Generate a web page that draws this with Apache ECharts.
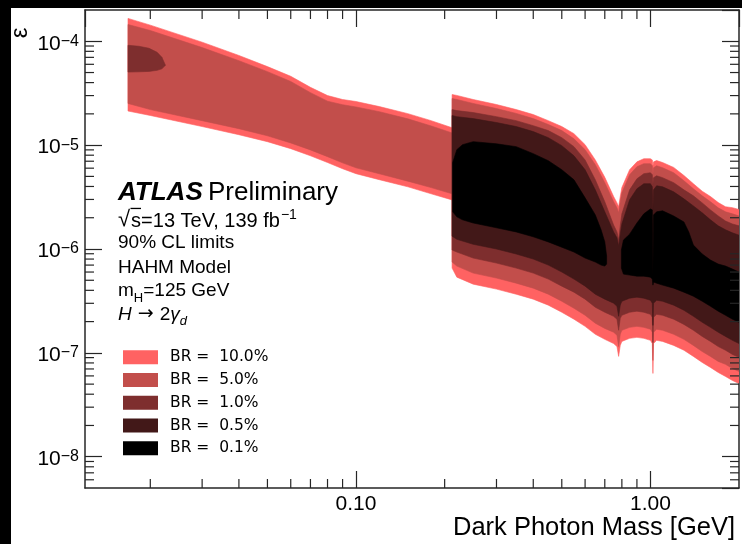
<!DOCTYPE html>
<html><head><meta charset="utf-8">
<script src="https://cdn.jsdelivr.net/npm/echarts@6/dist/echarts.min.js"></script>
<style>
html,body{margin:0;padding:0;background:#000;width:742px;height:544px;overflow:hidden}
#chart{position:absolute;left:11px;top:8px;width:731px;height:536px;background:#fff}
</style></head><body><div id="chart"></div>
<script>
// ---------- axis ranges and ticks ----------
const xMin = 0.012, xMax = 2.0, yMin = 5e-9, yMax = 2e-4;
const xMinorTicks = [0.02,0.03,0.04,0.05,0.06,0.07,0.08,0.09,0.2,0.3,0.4,0.5,0.6,0.7,0.8,0.9];
const yMinorTicks = [6e-9,7e-9,8e-9,9e-9,2e-8,3e-8,4e-8,5e-8,6e-8,7e-8,8e-8,9e-8,2e-7,3e-7,4e-7,5e-7,6e-7,7e-7,8e-7,9e-7,
  2e-6,3e-6,4e-6,5e-6,6e-6,7e-6,8e-6,9e-6,2e-5,3e-5,4e-5,5e-5,6e-5,7e-5,8e-5,9e-5];

// ---------- low-mass band (dark photon mass in GeV, epsilon) ----------
const massLeft = [0.0168,0.02,0.03,0.04,0.05,0.06,0.07,0.08,0.09,0.1,0.12,0.15,0.18,0.212];
const br10UpperLeft = [1.66e-4,1.43e-4,9.8e-5,7.3e-5,5.7e-5,4.6e-5,3.6e-5,3.0e-5,2.75e-5,2.63e-5,2.35e-5,2.01e-5,1.72e-5,1.47e-5];
const br10LowerLeft = [2.13e-5,1.93e-5,1.51e-5,1.26e-5,1.08e-5,9.25e-6,7.9e-6,6.8e-6,5.93e-6,5.31e-6,4.65e-6,3.97e-6,3.4e-6,2.97e-6];
const br5UpperLeft = [1.45e-4,1.27e-4,8.7e-5,6.5e-5,5.1e-5,4.1e-5,3.2e-5,2.65e-5,2.45e-5,2.33e-5,2.1e-5,1.79e-5,1.53e-5,1.31e-5];
const br5LowerLeft = [2.52e-5,2.2e-5,1.72e-5,1.44e-5,1.23e-5,1.05e-5,9.0e-6,7.75e-6,6.75e-6,6.05e-6,5.3e-6,4.5e-6,3.9e-6,3.4e-6];
const massBlob = [0.0168,0.0183,0.0198,0.0211,0.0219,0.0225];
const br1UpperBlob = [9.15e-5,8.95e-5,8.56e-5,7.83e-5,7.0e-5,5.9e-5];
const br1LowerBlob = [5.05e-5,5.08e-5,5.13e-5,5.25e-5,5.43e-5,5.86e-5];

// ---------- high-mass region ----------
const massRight = [0.212,0.22,0.25,0.3,0.35,0.4,0.45,0.5,0.55,0.6,0.65,0.7,0.75,0.77,0.78,0.79,0.8,0.85,0.9,0.95,1.0,1.015,1.02,1.025,1.05,1.1,1.2,1.3,1.4,1.5,1.6,1.7,1.8,1.9,2.0];
const br10UpperRight = [3.07e-5,3.01e-5,2.75e-5,2.46e-5,2.2e-5,1.97e-5,1.72e-5,1.51e-5,1.29e-5,1.01e-5,7.2e-6,4.9e-6,3.2e-6,2.78e-6,2.55e-6,3.2e-6,3.9e-6,5.8e-6,6.9e-6,7.4e-6,7.4e-6,7.2e-6,6.3e-6,6.9e-6,7.1e-6,6.8e-6,6.1e-6,5.1e-6,4.25e-6,3.6e-6,3.2e-6,2.8e-6,2.55e-6,2.5e-6,2.4e-6];
const br10LowerRight = [6.55e-7,5.36e-7,4.59e-7,4.11e-7,3.67e-7,3.29e-7,2.88e-7,2.46e-7,2.11e-7,1.8e-7,1.51e-7,1.35e-7,1.23e-7,1.15e-7,9.25e-8,1.18e-7,1.29e-7,1.38e-7,1.41e-7,1.38e-7,1.32e-7,1.23e-7,6.34e-8,1.23e-7,1.32e-7,1.29e-7,1.18e-7,1.06e-7,9.25e-8,8.09e-8,7.24e-8,6.48e-8,5.93e-8,5.42e-8,5.07e-8];
const br5UpperRight = [2.81e-5,2.75e-5,2.52e-5,2.25e-5,2.02e-5,1.8e-5,1.58e-5,1.38e-5,1.15e-5,9.05e-6,6.48e-6,4.35e-6,2.85e-6,2.49e-6,2.23e-6,2.85e-6,3.48e-6,5.19e-6,6.2e-6,6.63e-6,6.63e-6,6.34e-6,5.19e-6,6.06e-6,6.34e-6,6.06e-6,5.42e-6,4.54e-6,3.8e-6,3.25e-6,2.85e-6,2.49e-6,2.28e-6,2.18e-6,2.08e-6];
const br5LowerRight = [7.49e-7,6.85e-7,5.86e-7,5.25e-7,4.69e-7,4.2e-7,3.67e-7,3.14e-7,2.69e-7,2.3e-7,1.93e-7,1.72e-7,1.58e-7,1.48e-7,1.15e-7,1.51e-7,1.65e-7,1.76e-7,1.8e-7,1.76e-7,1.69e-7,1.58e-7,8.46e-8,1.58e-7,1.69e-7,1.65e-7,1.51e-7,1.35e-7,1.18e-7,1.03e-7,9.25e-8,8.28e-8,7.75e-8,7.08e-8,6.63e-8];
const br1UpperRight = [2.2e-5,2.15e-5,2.06e-5,1.88e-5,1.72e-5,1.54e-5,1.38e-5,1.18e-5,9.67e-6,7.2e-6,4.64e-6,2.85e-6,1.7e-6,1.46e-6,1.22e-6,1.67e-6,2.18e-6,3.71e-6,4.74e-6,5.31e-6,5.42e-6,5.19e-6,4.15e-6,4.86e-6,5.07e-6,4.86e-6,4.35e-6,3.71e-6,3.25e-6,2.78e-6,2.38e-6,2.08e-6,1.86e-6,1.74e-6,1.67e-6];
const br1LowerRight = [9.78e-7,9.35e-7,8.18e-7,7.32e-7,6.55e-7,5.86e-7,5.13e-7,4.39e-7,3.84e-7,3.29e-7,2.75e-7,2.46e-7,2.25e-7,2.11e-7,1.65e-7,2.15e-7,2.3e-7,2.46e-7,2.52e-7,2.46e-7,2.35e-7,2.2e-7,1.26e-7,2.2e-7,2.35e-7,2.3e-7,2.11e-7,1.88e-7,1.65e-7,1.44e-7,1.29e-7,1.15e-7,1.06e-7,9.67e-8,9.05e-8];
const br05UpperRight = [1.93e-5,1.88e-5,1.8e-5,1.65e-5,1.51e-5,1.35e-5,1.18e-5,9.89e-6,7.9e-6,5.8e-6,3.71e-6,2.28e-6,1.46e-6,1.28e-6,1.07e-6,1.39e-6,1.74e-6,2.98e-6,3.8e-6,4.25e-6,4.25e-6,3.97e-6,2.38e-6,3.71e-6,4.06e-6,3.97e-6,3.55e-6,3.04e-6,2.6e-6,2.23e-6,1.91e-6,1.67e-6,1.53e-6,1.43e-6,1.36e-6];
const br05LowerRight = [1.33e-6,1.24e-6,1.11e-6,1.0e-6,8.95e-7,8.0e-7,7.0e-7,6.0e-7,5.13e-7,4.39e-7,3.67e-7,3.29e-7,3.01e-7,2.81e-7,2.25e-7,2.88e-7,3.14e-7,3.36e-7,3.44e-7,3.36e-7,3.21e-7,3.01e-7,1.84e-7,3.01e-7,3.21e-7,3.14e-7,2.88e-7,2.57e-7,2.25e-7,1.97e-7,1.76e-7,1.58e-7,1.44e-7,1.32e-7,1.23e-7];
const massBlackA = [0.213,0.22,0.23,0.25,0.3,0.35,0.4,0.45,0.5,0.55,0.6,0.65,0.68,0.7,0.71];
const br01UpperA = [6.78e-6,9.05e-6,1.01e-5,1.08e-5,1.03e-5,9.67e-6,8.28e-6,7.08e-6,5.8e-6,4.64e-6,3.11e-6,2.13e-6,1.53e-6,1.17e-6,8.56e-7];
const br01LowerA = [2.28e-6,2.04e-6,1.91e-6,1.78e-6,1.6e-6,1.46e-6,1.31e-6,1.17e-6,1.04e-6,9.35e-7,8.18e-7,7.49e-7,7.0e-7,6.85e-7,7.16e-7];
const massBlackB = [0.797,0.81,0.85,0.9,0.95,1.0,1.015,1.02,1.025,1.05,1.1,1.2,1.3,1.35,1.4,1.5,1.6,1.7,1.8,1.9,2.0];
const br01UpperB = [9.78e-7,1.22e-6,1.39e-6,1.78e-6,2.18e-6,2.43e-6,2.38e-6,5.48e-7,2.13e-6,2.28e-6,2.33e-6,2.08e-6,1.82e-6,1.46e-6,1.09e-6,8.95e-7,7.83e-7,7.16e-7,6.85e-7,6.41e-7,6.0e-7];
const br01LowerB = [6.55e-7,5.73e-7,5.61e-7,5.48e-7,5.48e-7,5.36e-7,5.13e-7,4.49e-7,4.8e-7,4.69e-7,4.49e-7,4.2e-7,3.84e-7,3.67e-7,3.51e-7,3.14e-7,2.81e-7,2.52e-7,2.3e-7,2.11e-7,1.97e-7];

const seriesNames = ['BR =  10.0%','BR =  5.0%','BR =  1.0%','BR =  0.5%','BR =  0.1%'];
const seriesColors = ['#FF6262','#C24E4B','#7E2E2E','#421818','#000000'];

// ---------- helpers ----------
function pts(mass, vals){ return mass.map((m,i)=>[m, vals[i]]); }
function band(upperPts, lowerPts){ return upperPts.concat(lowerPts.slice().reverse()); }

const polys = [
  [ band(pts(massLeft,br10UpperLeft).concat(pts(massRight,br10UpperRight)),
         pts(massLeft,br10LowerLeft).concat(pts(massRight,br10LowerRight))) ],
  [ band(pts(massLeft,br5UpperLeft).concat(pts(massRight,br5UpperRight)),
         pts(massLeft,br5LowerLeft).concat(pts(massRight,br5LowerRight))) ],
  [ band(pts(massBlob,br1UpperBlob), pts(massBlob,br1LowerBlob)),
    band(pts(massRight,br1UpperRight), pts(massRight,br1LowerRight)) ],
  [ band(pts(massRight,br05UpperRight), pts(massRight,br05LowerRight)) ],
  [ band(pts(massBlackA,br01UpperA), pts(massBlackA,br01LowerA)),
    band(pts(massBlackB,br01UpperB), pts(massBlackB,br01LowerB)) ]
];

const AX = '#262626';
const MINOR_LEN = 9;

function polySeries(idx){
  const color = seriesColors[idx];
  const shapes = polys[idx];
  const data = [];
  shapes.forEach((poly,pi)=>poly.forEach(p=>data.push([p[0],p[1],pi])));
  return {
    type:'custom', name: seriesNames[idx], coordinateSystem:'cartesian2d',
    xAxisIndex:0, yAxisIndex:0, clip:true, silent:true,
    itemStyle:{color}, encode:{x:0,y:1}, data,
    renderItem(params, api){
      if (params.dataIndex !== 0) return null;
      return { type:'group', children: shapes.map(poly=>({
        type:'polygon',
        shape:{ points: poly.map(p=>api.coord([p[0],p[1]])) },
        style:{ fill: color, stroke: color, lineWidth: 0.6 }
      }))};
    }
  };
}

const FONT = '"Liberation Sans", Arial, Helvetica, sans-serif';
function isPow10(v){ const e = Math.round(Math.log10(v)); return Math.abs(v/Math.pow(10,e)-1) < 1e-6; }

function xAxisDef(pos, withLabels){
  return {
    type:'log', logBase:10, min:xMin, max:xMax, position:pos, gridIndex:0,
    axisLine:{show:true, onZero:false, lineStyle:{color:AX, width:1.5}},
    axisTick:{show:true, inside:true, length:17, lineStyle:{color:AX,width:1.2}},
    axisLabel: withLabels ? {show:true, margin:6, color:'#000', fontSize:21, fontFamily:FONT,
        showMinLabel:false, showMaxLabel:false,
        formatter: v => isPow10(v) ? v.toFixed(2) : ''} : {show:false},
    splitLine:{show:false}, minorTick:{show:false}
  };
}
function yAxisDef(pos, withLabels){
  return {
    type:'log', logBase:10, min:yMin, max:yMax, position:pos, gridIndex:0,
    axisLine:{show:true, onZero:false, lineStyle:{color:AX, width:1.5}},
    axisTick:{show:true, inside:true, length:17, lineStyle:{color:AX,width:1.2}},
    axisLabel: withLabels ? {show:true, margin:6, color:'#000', fontFamily:FONT,
        showMinLabel:false, showMaxLabel:false, padding:[5,0,0,0],
        formatter: v => isPow10(v) ? '{b|10}{s|\u2212' + (-Math.round(Math.log10(v))) + '}' : '',
        rich:{
          b:{fontSize:21, lineHeight:21, fontFamily:FONT, color:'#000', verticalAlign:'bottom'},
          s:{fontSize:16, lineHeight:16, fontFamily:FONT, color:'#000', verticalAlign:'top', padding:[0,0,13,0]}
        }} : {show:false},
    splitLine:{show:false}, minorTick:{show:false}
  };
}

const T = 19;
const textGraphics = [
  {type:'text', x:9, y:25, rotation:Math.PI/2, style:{text:'\u03b5', font:'24px '+FONT, fill:'#000', align:'center', verticalAlign:'middle'}},
  {type:'text', x:724, y:520, style:{text:'Dark Photon Mass [GeV]', font:'25.5px '+FONT, fill:'#000', align:'right', verticalAlign:'middle'}},
  {type:'text', x:107, y:184.5, style:{text:'ATLAS', font:'italic bold 26px '+FONT, fill:'#000', align:'left', verticalAlign:'middle'}},
  {type:'text', x:197, y:184.5, style:{text:'Preliminary', font:'26px '+FONT, fill:'#000', align:'left', verticalAlign:'middle'}},
  {type:'text', x:107, y:210, style:{text:'{r|\u221a}{n|s=13 TeV, 139 fb}{p|\u22121}', align:'left', verticalAlign:'middle',
     rich:{r:{fontSize:22, fontFamily:FONT, lineHeight:22, padding:[2,1,0,0], verticalAlign:'top', fill:'#000'},
           n:{fontSize:20, fontFamily:FONT, lineHeight:22, padding:[4,0,0,0], verticalAlign:'top', fill:'#000'},
           p:{fontSize:14, fontFamily:FONT, lineHeight:14, padding:[1,0,0,1], verticalAlign:'top', fill:'#000'}}}},
  {type:'rect', shape:{x:119.5, y:199.8, width:10.5, height:1.3}, style:{fill:'#000'}},
  {type:'text', x:107, y:235, style:{text:'90% CL limits', font:T+'px '+FONT, fill:'#000', align:'left', verticalAlign:'middle'}},
  {type:'text', x:107, y:259.5, style:{text:'HAHM Model', font:T+'px '+FONT, fill:'#000', align:'left', verticalAlign:'middle'}},
  {type:'text', x:107, y:284.5, style:{text:'{n|m}{d|H}{n|=125 GeV}', align:'left', verticalAlign:'middle',
     rich:{n:{fontSize:T, fontFamily:FONT, lineHeight:22, verticalAlign:'top', fill:'#000'},
           d:{fontSize:13, fontFamily:FONT, lineHeight:13, padding:[10,0,0,0], verticalAlign:'top', fill:'#000'}}}},
  {type:'text', x:107, y:308, style:{text:'{i|H}{a| \u2192 }{n|2}{i|\u03b3}{d|d}', align:'left', verticalAlign:'middle',
     rich:{n:{fontSize:T, fontFamily:FONT, lineHeight:22, verticalAlign:'top', fill:'#000'},
           a:{fontSize:T, fontFamily:'"DejaVu Sans", sans-serif', lineHeight:22, verticalAlign:'top', fill:'#000'},
           i:{fontSize:T, fontStyle:'italic', fontFamily:FONT, lineHeight:22, verticalAlign:'top', fill:'#000'},
           d:{fontSize:13, fontStyle:'italic', fontFamily:FONT, lineHeight:13, padding:[10,0,0,0], verticalAlign:'top', fill:'#000'}}}}
];

const GRID = {left:74, right:3, top:2, bottom:56};
const chart = echarts.init(document.getElementById('chart'), null, {renderer:'canvas'});
chart.setOption({
  animation:false,
  backgroundColor:'#fff',
  grid:Object.assign({containLabel:false, outerBoundsMode:'none'}, GRID),
  xAxis:[ xAxisDef('bottom',true), xAxisDef('top',false) ],
  yAxis:[ yAxisDef('left',true), yAxisDef('right',false) ],
  legend:{
    show:true, orient:'vertical', left:112, top:341.3, padding:0, itemWidth:35, itemHeight:14, itemGap:6.75,
    icon:'rect', selectedMode:false,
    data: seriesNames.map((n,i)=>({name:n, itemStyle:{color:seriesColors[i]}})),
    textStyle:{fontFamily:'"DejaVu Sans", sans-serif', fontSize:15.5, color:'#000', lineHeight:14, padding:[0,0,0,7]}
  },
  series:[0,1,2,3,4].map(polySeries),
  graphic: textGraphics
});

// ---------- minor ticks: positions converted through the axes' own log scales ----------
const W = 731, H = 536;
function px(axisKey, v){ const r = chart.convertToPixel(axisKey, v); return (typeof r === 'number' && isFinite(r)) ? r : NaN; }
let gL = px({xAxisIndex:0}, xMin), gR = px({xAxisIndex:0}, xMax);
let gB = px({yAxisIndex:0}, yMin), gT = px({yAxisIndex:0}, yMax);
if (!isFinite(gL)) gL = GRID.left;
if (!isFinite(gR)) gR = W - GRID.right;
if (!isFinite(gB)) gB = H - GRID.bottom;
if (!isFinite(gT)) gT = GRID.top;
const tickGraphics = [];
xMinorTicks.forEach(v => {
  const x = px({xAxisIndex:0}, v);
  if (!isFinite(x)) return;
  tickGraphics.push({type:'rect', z:50, silent:true, shape:{x:x-0.6, y:gB-MINOR_LEN, width:1.2, height:MINOR_LEN}, style:{fill:AX}});
  tickGraphics.push({type:'rect', z:50, silent:true, shape:{x:x-0.6, y:gT, width:1.2, height:MINOR_LEN}, style:{fill:AX}});
});
yMinorTicks.forEach(v => {
  const y = px({yAxisIndex:0}, v);
  if (!isFinite(y)) return;
  tickGraphics.push({type:'rect', z:50, silent:true, shape:{x:gL, y:y-0.6, width:MINOR_LEN, height:1.2}, style:{fill:AX}});
  tickGraphics.push({type:'rect', z:50, silent:true, shape:{x:gR-MINOR_LEN, y:y-0.6, width:MINOR_LEN, height:1.2}, style:{fill:AX}});
});
chart.setOption({ graphic: textGraphics.concat(tickGraphics) });
</script></body></html>
